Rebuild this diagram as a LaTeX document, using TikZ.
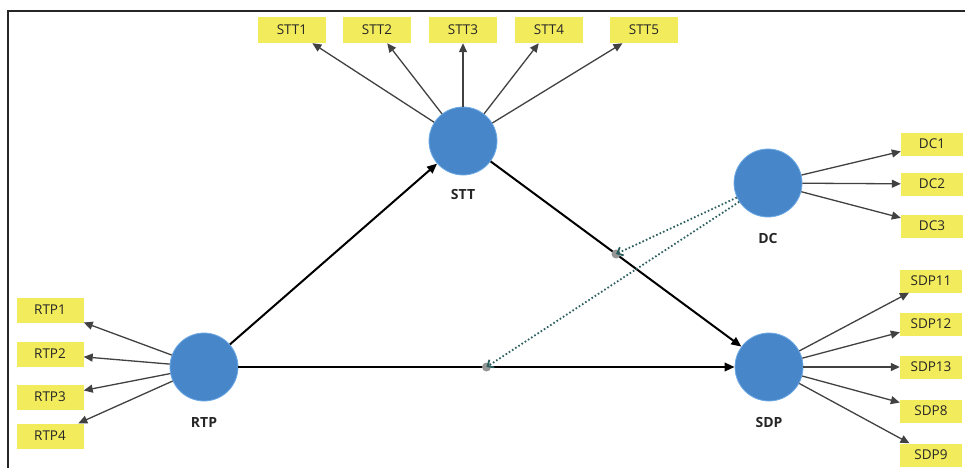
\documentclass[tikz,border=0pt]{standalone}
\usepackage{fontspec}
\setmainfont{Open Sans}
\usetikzlibrary{arrows.meta,calc}
\definecolor{construct}{RGB}{72,134,202}
\definecolor{construct rim}{RGB}{110,170,230}
\definecolor{itembox}{RGB}{242,235,92}
\definecolor{loading}{RGB}{65,65,65}
\definecolor{moderation}{RGB}{45,95,95}
\definecolor{dotgray}{RGB}{150,150,150}
\begin{document}
\begin{tikzpicture}[x=1pt,y=-1pt,
  latent/.style={circle,fill=construct,draw=construct rim,line width=0.8pt,minimum size=68pt,inner sep=0pt},
  caption/.style={font=\fontsize{14}{15}\selectfont\bfseries,text=black!85},
  item/.style={rectangle,fill=itembox,inner sep=0pt,font=\fontsize{13.5}{14}\selectfont,text=black!85},
  topitem/.style={item,minimum width=68pt,minimum height=26pt},
  leftitem/.style={item,minimum width=67pt,minimum height=25pt},
  rightitem/.style={item,minimum width=62pt,minimum height=23pt},
  outer/.style={-{Triangle[length=9pt,width=8pt]},draw=loading,line width=1.3pt},
  inner/.style={-{Triangle[length=10pt,width=8.5pt]},draw=black,line width=2pt},
  moder/.style={-{Straight Barb[length=5pt,width=9pt]},draw=moderation,line width=1.8pt,dash pattern=on 1.6pt off 2.2pt},
  junction/.style={circle,fill=dotgray,inner sep=0pt,minimum size=9pt}]
\useasboundingbox (0,0) rectangle (965,468);
% frame
\draw[line width=1.2pt,black!85] (8,468) -- (8,11) -- (965,11);

% latent constructs
\node[latent] (stt) at (463,141) {};
\node[latent] (dc)  at (768,183) {};
\node[latent] (rtp) at (204,367) {};
\node[latent] (sdp) at (769,367) {};
\node[caption] at (463,194) {STT};
\node[caption] at (768,238) {DC};
\node[caption] at (204,422) {RTP};
\node[caption] at (769,422) {SDP};

% indicators of STT
\node[topitem] (stt1) at (292,30) {STT1};
\node[topitem] (stt2) at (377,30) {STT2};
\node[topitem] (stt3) at (463,30) {STT3};
\node[topitem] (stt4) at (549,30) {STT4};
\node[topitem] (stt5) at (644,30) {STT5};
% indicators of RTP
\node[leftitem] (rtp1) at (50,310) {RTP1};
\node[leftitem] (rtp2) at (50,354) {RTP2};
\node[leftitem] (rtp3) at (50,397) {RTP3};
\node[leftitem] (rtp4) at (50,436) {RTP4};
% indicators of DC
\node[rightitem] (dc1) at (932,144) {DC1};
\node[rightitem] (dc2) at (932,184) {DC2};
\node[rightitem] (dc3) at (932,226) {DC3};
% indicators of SDP
\node[rightitem] (sdp11) at (931,281) {SDP11};
\node[rightitem] (sdp12) at (931,324) {SDP12};
\node[rightitem] (sdp13) at (931,367) {SDP13};
\node[rightitem] (sdp8)  at (931,411) {SDP8};
\node[rightitem] (sdp9)  at (931,455) {SDP9};

% outer loadings
\foreach \t in {stt1,stt2,stt3,stt4,stt5} \draw[outer] (stt) -- (\t);
\foreach \t in {rtp1,rtp2,rtp3,rtp4} \draw[outer] (rtp) -- (\t);
\foreach \t in {dc1,dc2,dc3} \draw[outer] (dc) -- (\t);
\foreach \t in {sdp11,sdp12,sdp13,sdp8,sdp9} \draw[outer] (sdp) -- (\t);

% structural paths
\draw[inner] (rtp) -- (stt);
\draw[inner] (stt) -- (sdp);
\draw[inner] (rtp) -- (sdp);

% moderating effects of DC
\node[junction] (m1) at ($(stt)!0.5!(sdp)$) {};
\node[junction] (m2) at ($(rtp)!0.5!(sdp)$) {};
\draw[moder] (dc) -- (m1.center);
\draw[moder] (dc) -- (m2.center);
\end{tikzpicture}
\end{document}
